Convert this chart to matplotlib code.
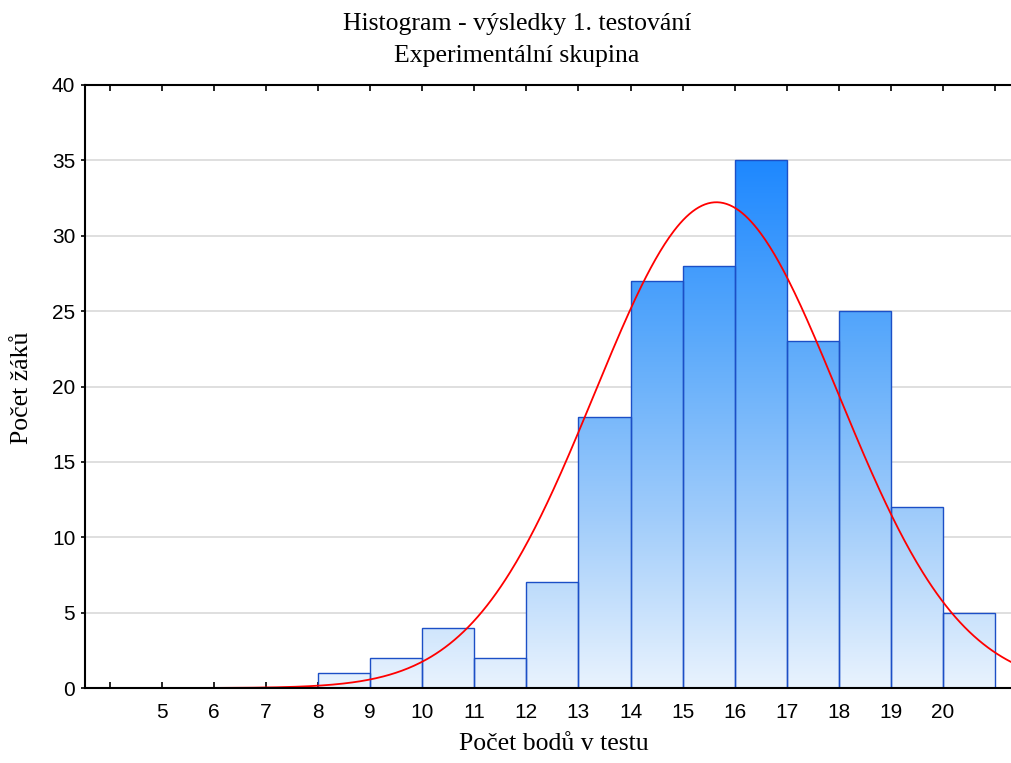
import numpy as np
import matplotlib
matplotlib.use("Agg")
import matplotlib.pyplot as plt
from matplotlib.colors import LinearSegmentedColormap
from matplotlib.path import Path
from matplotlib.patches import PathPatch
from matplotlib.transforms import Affine2D

# histogram data
bin_left = [4, 5, 6, 7, 8, 9, 10, 11, 12, 13, 14, 15, 16, 17, 18, 19, 20]
counts = [0, 0, 0, 0, 1, 2, 4, 2, 7, 18, 27, 28, 35, 23, 25, 12, 5]
tick_pos = list(range(4, 22))
tick_labels = [""] + [str(v) for v in range(5, 21)] + [""]

# fitted normal curve parameters
fit_mean = 15.65
fit_sd = 2.34

serif = "Liberation Serif"
sans = "Liberation Sans"

fig = plt.figure(figsize=(10.11, 7.63), dpi=100)
ax = fig.add_axes([85 / 1011, 75 / 763, 1 - 85 / 1011, 603 / 763])

xmin, xmax = 3.52, 21.31
ax.set_xlim(xmin, xmax)
ax.set_ylim(0, 40)

# grid
ax.set_yticks(range(0, 41, 5))
ax.yaxis.grid(True, color="#d9d9d9", linewidth=1.2)
ax.set_axisbelow(True)

# bar outlines
ax.bar(bin_left, counts, width=1, align="edge", facecolor="none",
       edgecolor="#1c4fc6", linewidth=1.0, zorder=3)

# gradient fill clipped to the bars
cmap = LinearSegmentedColormap.from_list("g", ["#e9f3fe", "#9ecbfa", "#5aa9fb", "#1e88ff"])
grad = np.linspace(0, 1, 256).reshape(-1, 1)
im = ax.imshow(grad, cmap=cmap, origin="lower", aspect="auto",
               extent=(xmin, xmax, 0, max(counts)), zorder=2)
paths = [Path.unit_rectangle().transformed(Affine2D().scale(1, c).translate(x, 0))
         for x, c in zip(bin_left, counts) if c > 0]
clip = PathPatch(Path.make_compound_path(*paths), transform=ax.transData,
                 facecolor="none", edgecolor="none")
ax.add_patch(clip)
im.set_clip_path(clip)
ax.set_xlim(xmin, xmax)
ax.set_ylim(0, 40)

# normal curve
n = sum(counts)
xs = np.linspace(xmin, xmax, 600)
ys = n * np.exp(-0.5 * ((xs - fit_mean) / fit_sd) ** 2) / (fit_sd * np.sqrt(2 * np.pi))
ax.plot(xs, ys, color="#ff0000", linewidth=1.3, zorder=4)

# axes styling
for s in ["left", "bottom", "top"]:
    ax.spines[s].set_linewidth(1.5)
    ax.spines[s].set_zorder(5)
ax.spines["right"].set_visible(False)

ax.set_xticks(tick_pos)
ax.set_xticklabels(tick_labels, fontname=sans, fontsize=15)
ax.tick_params(axis="x", direction="in", length=4, width=1.2, top=True, pad=11)
ax.set_yticklabels([str(v) for v in range(0, 41, 5)], fontname=sans, fontsize=15)
ax.tick_params(axis="y", direction="out", length=3, width=1.2, pad=4)

fig.text(554 / 1011, 1 - 750 / 763, "Počet bodů v testu", ha="center",
         va="baseline", fontname=serif, fontsize=18.5)
fig.text(22 / 1011, 1 - 388 / 763, "Počet žáků", ha="center", va="center",
         rotation=90, fontname=serif, fontsize=18.5)

fig.text(517 / 1011, 1 - 24 / 763, "Histogram - výsledky 1. testování", ha="center",
         va="center", fontname=serif, fontsize=18.5)
fig.text(517 / 1011, 1 - 56 / 763, "Experimentální skupina", ha="center",
         va="center", fontname=serif, fontsize=18.5)

fig.savefig("out.png", dpi=100)
